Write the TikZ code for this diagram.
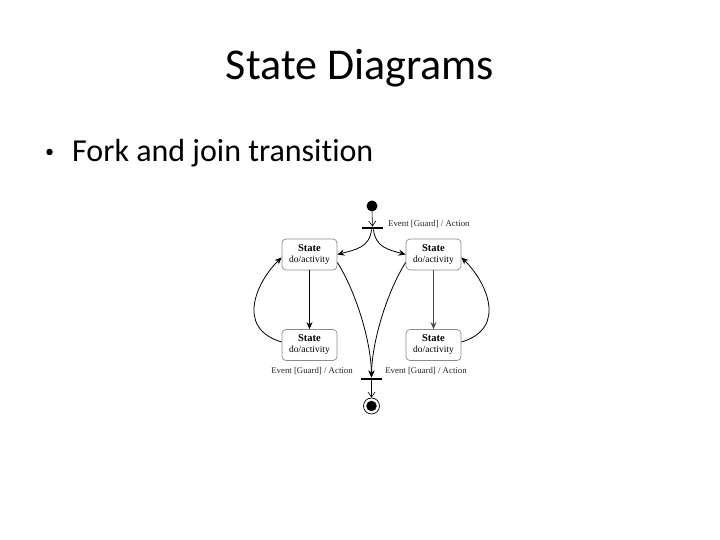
\documentclass[tikz,border=0pt]{standalone}
\usepackage{fontspec}
\setmainfont{Carlito}[RawFeature={-liga;-calt}]
\newfontfamily\diafont{Liberation Serif}
\usetikzlibrary{arrows.meta}
\begin{document}
\begin{tikzpicture}[x=1pt,y=1pt,
  statebox/.style={draw=black!45, rounded corners=4pt, minimum width=55pt, minimum height=31pt, inner sep=0pt, align=center, font=\diafont\fontsize{9.5}{10}\selectfont, line width=0.7pt},
  barnode/.style={fill=black, minimum width=21pt, minimum height=2.5pt, inner sep=0pt},
  lbl/.style={font=\diafont\fontsize{8.8}{9}\selectfont, inner sep=0pt, text=black!85},
  conn/.style={line width=0.8pt, -{Stealth[length=7pt,width=6pt]}},
  openarrow/.style={line width=0.6pt, -{Straight Barb[length=5pt,width=7pt]}}
]
\useasboundingbox (0,0) rectangle (720,540);
\fill[white] (0,0) rectangle (720,540);
% title and bullet
\node[anchor=base, font=\fontsize{44}{48}\selectfont, inner sep=0pt] (title) at (360,460) {State Diagrams};
\node[circle, fill=black, minimum size=6.5pt, inner sep=0pt] (dot) at (49.5,388) {};
\node[anchor=base west, font=\fontsize{32}{36}\selectfont, inner sep=0pt] (bullet) at (72,378) {Fork and join transition};
% diagram
\node[circle, fill=black, minimum size=11pt, inner sep=0pt] (init) at (372,334) {};
\node[barnode] (fork) at (372.5,312) {};
\node[lbl, anchor=west] (lfork) at (388,316) {Event [Guard] / Action};
\node[statebox] (tl) at (309.5,285.5) {{\fontsize{10.5}{11}\selectfont\bfseries State}\\[1pt]do/activity};
\node[statebox] (tr) at (433.5,285.5) {{\fontsize{10.5}{11}\selectfont\bfseries State}\\[1pt]do/activity};
\node[statebox] (bl) at (309.5,195) {{\fontsize{10.5}{11}\selectfont\bfseries State}\\[1pt]do/activity};
\node[statebox] (br) at (433.5,195) {{\fontsize{10.5}{11}\selectfont\bfseries State}\\[1pt]do/activity};
\node[barnode] (join) at (371.5,161) {};
\node[lbl] (ljl) at (312,169) {Event [Guard] / Action};
\node[lbl] (ljr) at (426,169) {Event [Guard] / Action};
\node[circle, draw=black, line width=0.7pt, minimum size=16pt, inner sep=0pt] (final) at (371.5,134) {};
\node[circle, fill=black, minimum size=10.5pt, inner sep=0pt] (finaldot) at (final) {};
% connectors
\draw[openarrow] (init.south) -- (fork.north);
\draw[conn] ([xshift=-1pt]fork.south) to[out=-95,in=15,looseness=1.1] (tl.east);
\draw[conn] ([xshift=1pt]fork.south) to[out=-85,in=165,looseness=1.1] (tr.west);
\draw[conn] (tl.south) -- (bl.north);
\draw[conn, draw=black!70, line width=1.2pt] (tr.south) -- (br.north);
\draw[conn] ([yshift=3pt]bl.west) .. controls (234,212) and (258,260) .. ([yshift=-3pt]tl.west);
\draw[conn] ([yshift=3pt]br.east) .. controls (509,212) and (485,260) .. ([yshift=-3pt]tr.east);
\draw[conn] ([yshift=-8pt]tl.east) .. controls (355,250) and (371,200) .. (join.north);
\draw[conn] ([yshift=-8pt]tr.west) .. controls (388,250) and (372,200) .. (join.north);
\draw[openarrow] (join.south) -- (final.north);
\end{tikzpicture}
\end{document}
